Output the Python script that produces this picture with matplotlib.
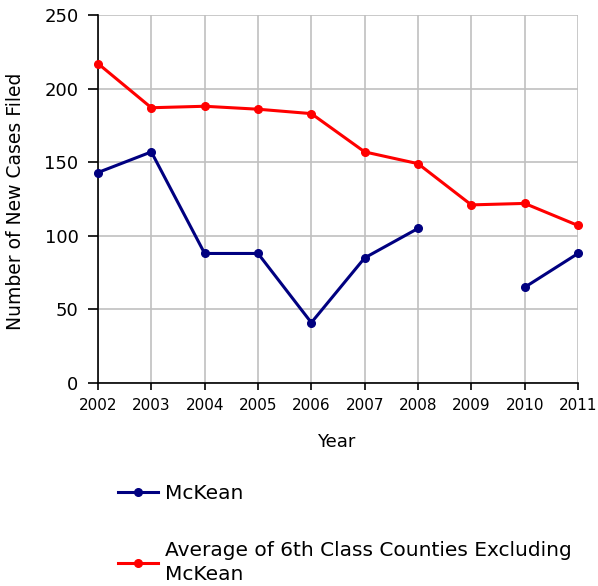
import matplotlib
matplotlib.use("Agg")
import matplotlib.pyplot as plt
import numpy as np

plt.rcParams['font.family'] = ['DejaVu Sans']

years = [2002, 2003, 2004, 2005, 2006, 2007, 2008, 2009, 2010, 2011]
mckean = [143, 157, 88, 88, 41, 85, 105, np.nan, 65, 88]
average = [217, 187, 188, 186, 183, 157, 149, 121, 122, 107]
yticks = [0, 50, 100, 150, 200, 250]

fig = plt.figure(figsize=(5.98, 5.86), dpi=100)
ax = fig.add_axes([98/598, 1-383/586, (578-98)/598, (383-15)/586])

l1, = ax.plot(years, mckean, color='#000080', lw=2.2, marker='o', ms=5.5, clip_on=False, zorder=3)
l2, = ax.plot(years, average, color='#ff0000', lw=2.2, marker='o', ms=5.5, clip_on=False, zorder=3)

ax.set_xlim(2002, 2011)
ax.set_ylim(0, 250)
ax.set_xticks(years)
ax.set_yticks(yticks)
ax.grid(True, color='#c0c0c0', lw=1.2)
ax.set_axisbelow(True)
for s in ['top', 'right']:
    ax.spines[s].set_visible(False)
for s in ['left', 'bottom']:
    ax.spines[s].set_color('black')
    ax.spines[s].set_linewidth(1.2)
ax.tick_params(axis='y', length=7, width=1.2, labelsize=13, pad=7)
ax.tick_params(axis='x', length=5, width=1.2, labelsize=11, pad=6)
ax.set_ylabel('Number of New Cases Filed', fontsize=13.5)
ax.set_xlabel('Year', fontsize=13)
ax.yaxis.set_label_coords(-0.152, 0.495)
ax.xaxis.set_label_coords(0.497, -0.137)

leg = fig.legend([l1, l2], ['McKean', 'Average of 6th Class Counties Excluding\nMcKean'],
                 loc='upper left', bbox_to_anchor=(118/598, 1-484/586), frameon=False,
                 fontsize=14.5, labelspacing=1.9, handlelength=2.0, handletextpad=0.35,
                 borderaxespad=0, borderpad=0)
leg.get_texts()[1].set_linespacing(1.3)

fig.savefig('out.png', dpi=100)
